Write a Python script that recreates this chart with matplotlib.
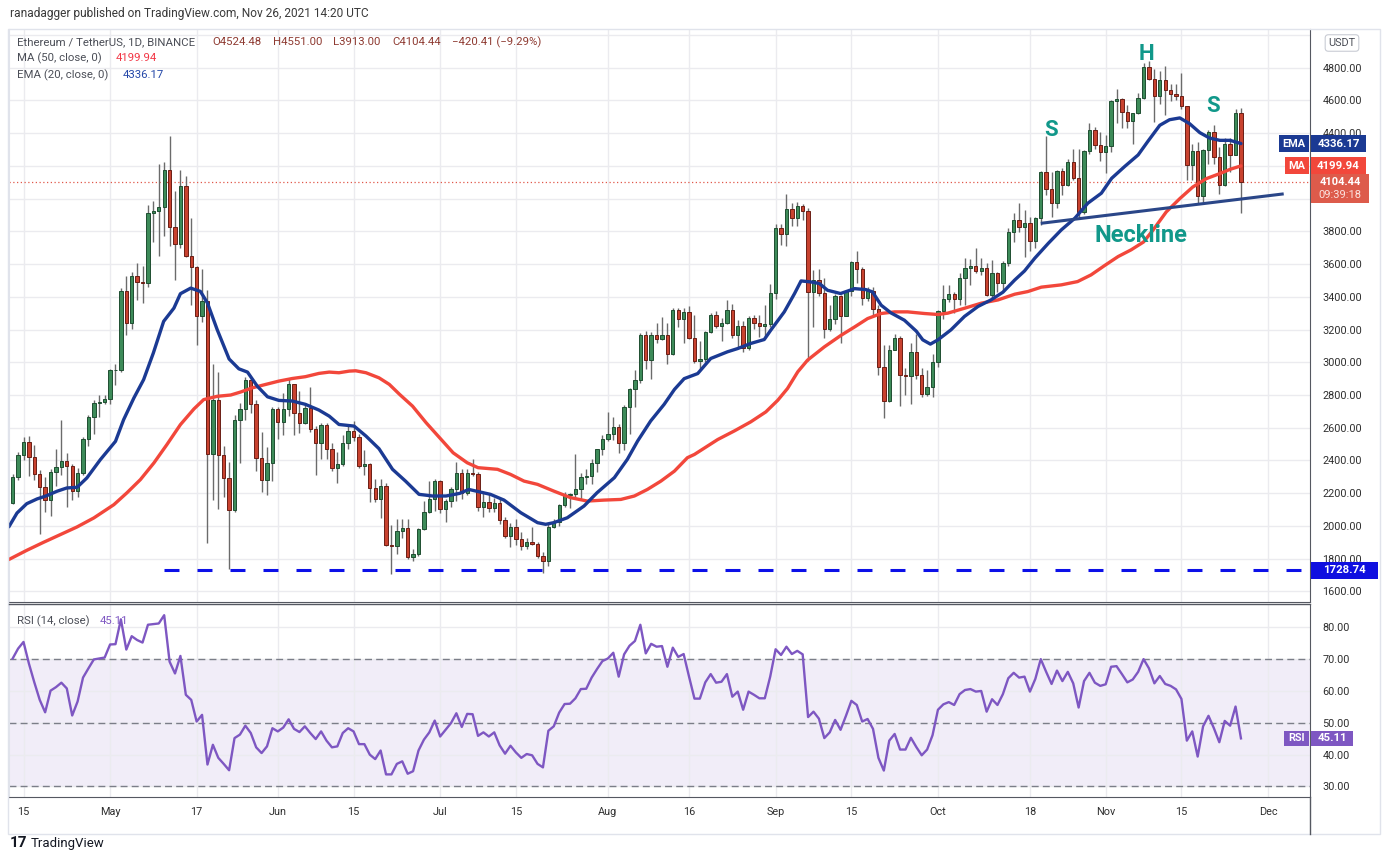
import numpy as np
import pandas as pd
import matplotlib
matplotlib.use('Agg')
import matplotlib.pyplot as plt
import matplotlib.dates as mdates
from matplotlib.patches import Rectangle
from matplotlib.lines import Line2D

plt.rcParams['font.family'] = ['Roboto', 'DejaVu Sans']

W, H = 1383, 860

# ETH/USDT daily candles, 2021-04-13 .. 2021-11-26
dates = pd.date_range('2021-04-13', '2021-11-26', freq='D')

opens = [
    2140, 2299, 2434, 2513, 2421, 2318, 2238, 2161, 2330, 2360, 2397, 2368, 2214, 2324, 2531, 2666, 2751, 2757,
    2776, 2951, 2955, 3435, 3240, 3529, 3490, 3484, 3912, 3926, 3948, 4176, 3824, 3722, 4078, 3647, 3582, 3280,
    3372, 2440, 2772, 2432, 2293, 2100, 2649, 2712, 2889, 2747, 2417, 2280, 2386,
    2712, 2635, 2712, 2865, 2692, 2627, 2720, 2594, 2508, 2614, 2472, 2356, 2376, 2508, 2582, 2545, 2366, 2376,
    2230, 2167, 2244, 1884, 1877, 1969, 1987, 1812, 1827, 1983, 2085, 2167,
    2274, 2105, 2152, 2223, 2325, 2199, 2325, 2319, 2118, 2148, 2112, 2142, 2034, 1938, 1995, 1922, 1877, 1904,
    1888, 1816, 1786, 1995, 2024, 2126, 2187, 2193, 2228, 2301, 2304, 2386, 2468,
    2533, 2559, 2606, 2508, 2728, 2834, 2891, 3164, 3013, 3164, 3144, 3164, 3048, 3322, 3266, 3310, 3148, 3010,
    3018, 3182, 3288, 3222, 3237, 3322, 3165, 3222, 3090, 3273, 3241, 3222, 3231,
    3426, 3823, 3786, 3939, 3884, 3953, 3925, 3430, 3501, 3426, 3206, 3267, 3404, 3284, 3434, 3611, 3567, 3395,
    3434, 3328, 2972, 2764, 3078, 3151, 2925, 2917, 3060, 2925, 2805, 2848,
    3001, 3314, 3385, 3416, 3385, 3514, 3575, 3589, 3560, 3575, 3412, 3544, 3487, 3605, 3794, 3868, 3829, 3849,
    3744, 3880, 4161, 4057, 3972, 4169, 4084, 4222, 4128, 3921, 4291, 4417, 4328,
    4287, 4322, 4596, 4609, 4531, 4476, 4521, 4613, 4805, 4733, 4627, 4723, 4666, 4641, 4627, 4564, 4204, 4289,
    4014, 4295, 4407, 4254, 4086, 4336, 4269, 4524.48,
]
highs = [
    2320, 2450, 2544, 2552, 2497, 2344, 2299, 2348, 2470, 2649, 2446, 2380, 2354, 2546, 2680, 2767, 2800, 2802,
    2960, 2987, 3456, 3529, 3551, 3606, 3590, 3962, 3987, 4213, 4221, 4380, 4044, 4176, 4140, 3881, 3590, 3570,
    3443, 2990, 2940, 2487, 2389, 2680, 2753, 2912, 2905, 2767, 2576, 2480, 2726,
    2728, 2810, 2895, 2870, 2824, 2749, 2850, 2610, 2631, 2627, 2504, 2453, 2555, 2616, 2641, 2559, 2462, 2385,
    2285, 2285, 2264, 2004, 2044, 2040, 2040, 1857, 1990, 2152, 2274, 2289,
    2280, 2162, 2240, 2390, 2346, 2346, 2411, 2330, 2199, 2199, 2173, 2173, 2055, 2020, 2044, 1965, 1928, 1995,
    1902, 1841, 2020, 2044, 2132, 2207, 2200, 2437, 2321, 2346, 2411, 2470, 2555,
    2696, 2667, 2620, 2740, 2844, 2952, 3176, 3192, 3184, 3237, 3278, 3241, 3333, 3333, 3333, 3343, 3288, 3129,
    3192, 3302, 3312, 3273, 3379, 3359, 3257, 3250, 3282, 3288, 3288, 3349, 3477,
    3847, 3843, 4027, 3974, 3980, 3970, 3945, 3562, 3567, 3512, 3349, 3420, 3410, 3440, 3619, 3680, 3583, 3461,
    3457, 3349, 3104, 3104, 3172, 3160, 2968, 3115, 3172, 2968, 2954, 3049,
    3320, 3473, 3473, 3432, 3544, 3640, 3632, 3701, 3636, 3605, 3626, 3554, 3620, 3823, 3910, 3972, 3931, 3890,
    3885, 4169, 4383, 4165, 4175, 4185, 4242, 4303, 4303, 4297, 4460, 4440, 4409,
    4389, 4603, 4670, 4612, 4572, 4525, 4643, 4827, 4838, 4790, 4780, 4810, 4702, 4702, 4769, 4564, 4336, 4346,
    4305, 4417, 4452, 4316, 4370, 4372, 4550, 4551,
]
lows = [
    2136, 2283, 2405, 2303, 2283, 1951, 2088, 2059, 2242, 2314, 2114, 2161, 2175, 2314, 2487, 2564, 2666, 2745,
    2747, 2859, 2940, 3164, 3205, 3382, 3362, 3460, 3732, 3651, 3773, 3708, 3504, 3696, 3643, 3348, 3107, 3246,
    1896, 2157, 2106, 2175, 1737, 2084, 2386, 2647, 2688, 2335, 2209, 2189, 2274,
    2529, 2555, 2671, 2555, 2566, 2620, 2574, 2311, 2411, 2407, 2335, 2264, 2366, 2472, 2519, 2356, 2311, 2148,
    2148, 2048, 1877, 1704, 1827, 1928, 1800, 1786, 1816, 1975, 2081, 2091,
    2081, 2024, 2118, 2150, 2166, 2190, 2305, 2091, 2056, 2085, 2085, 2010, 1928, 1873, 1881, 1853, 1857, 1881,
    1806, 1715, 1755, 1985, 1999, 2118, 2112, 2162, 2162, 2254, 2254, 2329, 2431,
    2519, 2525, 2447, 2464, 2560, 2728, 2875, 2960, 2899, 3119, 3139, 2987, 3042, 3217, 3119, 3141, 2997, 2956,
    3003, 3180, 3212, 3129, 3233, 3149, 3094, 3064, 3074, 3206, 3155, 3155, 3216,
    3389, 3719, 3709, 3831, 3835, 3872, 3009, 3216, 3404, 3149, 3192, 3233, 3115, 3282, 3404, 3485, 3349, 3375,
    3282, 2921, 2657, 2758, 3074, 2734, 2803, 2744, 2895, 2789, 2791, 2787,
    2974, 3263, 3371, 3300, 3351, 3347, 3473, 3544, 3534, 3402, 3381, 3428, 3428, 3591, 3733, 3799, 3646, 3681,
    3700, 3839, 4022, 3890, 3945, 4022, 4077, 4114, 3876, 3904, 4271, 4303, 4230,
    4155, 4287, 4460, 4430, 4430, 4332, 4515, 4609, 4725, 4468, 4576, 4513, 4594, 4600, 4550, 4112, 4112, 3969,
    3980, 4214, 4214, 4031, 4075, 4163, 4264, 3913,
]
closes = [
    2299, 2434, 2513, 2421, 2318, 2238, 2161, 2330, 2360, 2397, 2368, 2214, 2324, 2531, 2666, 2751, 2757, 2776,
    2951, 2955, 3435, 3240, 3529, 3490, 3484, 3912, 3926, 3948, 4176, 3824, 3722, 4078, 3647, 3582, 3280, 3372,
    2440, 2772, 2432, 2293, 2100, 2649, 2712, 2889, 2747, 2417, 2280, 2386, 2712,
    2635, 2712, 2865, 2692, 2627, 2720, 2594, 2508, 2614, 2472, 2356, 2376, 2508, 2582, 2545, 2366, 2376, 2230,
    2167, 2244, 1884, 1877, 1969, 1987, 1812, 1827, 1983, 2085, 2167, 2274,
    2105, 2152, 2223, 2325, 2199, 2325, 2319, 2118, 2148, 2112, 2142, 2034, 1938, 1995, 1922, 1877, 1904, 1888,
    1816, 1786, 1995, 2024, 2126, 2187, 2193, 2228, 2301, 2304, 2386, 2468, 2533,
    2559, 2606, 2508, 2728, 2834, 2891, 3164, 3013, 3164, 3144, 3164, 3048, 3322, 3266, 3310, 3148, 3010, 3018,
    3182, 3288, 3222, 3237, 3322, 3165, 3222, 3090, 3273, 3241, 3222, 3231, 3426,
    3823, 3786, 3939, 3884, 3953, 3925, 3430, 3501, 3426, 3206, 3267, 3404, 3284, 3434, 3611, 3567, 3395, 3434,
    3328, 2972, 2764, 3078, 3151, 2925, 2917, 3060, 2925, 2805, 2848, 3001,
    3314, 3385, 3416, 3385, 3514, 3575, 3589, 3560, 3575, 3412, 3544, 3487, 3605, 3794, 3868, 3829, 3849, 3744,
    3880, 4161, 4057, 3972, 4169, 4084, 4222, 4128, 3921, 4291, 4417, 4328, 4287,
    4322, 4596, 4609, 4531, 4476, 4521, 4613, 4805, 4733, 4627, 4723, 4666, 4641, 4627, 4564, 4204, 4289, 4014,
    4295, 4407, 4254, 4086, 4336, 4269, 4525, 4104.44,
]

# RSI(14) per day, same dates
rsi = [
    70.2, 73.3, 75.4, 68.6, 62.7, 57.2, 53.3, 60.1, 61.2, 62.6, 60.8, 52.3, 56.7, 64.2, 67.1, 69.9, 70.2, 70.5,
    74.6, 74.7, 82.5, 73.0, 77.2, 76.0, 75.2, 80.8, 81.0, 81.2, 83.8, 69.2, 65.5, 71.0, 58.8, 57.2, 50.4, 52.5,
    36.9, 43.1, 39.0, 37.1, 35.1, 45.2, 46.3, 49.1, 46.8, 42.3, 40.5, 42.6, 48.3, 47.3, 48.5, 51.1, 48.1, 47.1,
    48.9, 46.8, 44.9, 47.3, 44.4, 42.3, 42.6, 46.8, 48.3, 47.3, 43.3, 43.3, 40.0, 38.6, 41.3, 33.8, 33.8, 37.1,
    37.9, 34.0, 34.8, 41.3, 44.7, 47.0, 50.7, 45.7, 47.8, 49.9, 53.0, 48.7,
    52.8, 52.7, 45.9, 47.0, 45.7, 47.0, 42.9, 40.3, 42.8, 40.7, 39.0, 40.2, 39.8, 37.1, 36.0, 47.5, 48.9, 53.2,
    55.9, 56.0, 57.7, 60.6, 60.7, 64.2, 66.9, 69.4, 70.2, 72.0, 64.5, 71.5, 74.2, 75.7, 80.8, 71.8, 74.8, 73.9,
    74.1, 67.6, 73.6, 70.7, 71.6, 64.5, 57.6, 57.6, 62.7, 65.3, 62.6, 62.9, 65.3, 58.2, 59.8, 54.1, 59.8, 58.8,
    57.7, 57.7, 64.5, 73.1, 71.3, 73.9, 71.6, 72.6, 71.5, 51.8, 53.5, 51.3, 45.2, 47.0, 50.9, 47.8, 52.2, 56.9,
    55.6, 50.4, 51.2, 48.1, 39.0, 35.0, 44.4, 46.5, 41.6, 41.6, 45.3,
    42.4, 39.8, 41.6, 46.1, 54.1, 55.8, 56.5, 55.6, 59.0, 60.3, 60.6, 59.8, 60.0, 53.5, 57.4, 55.6, 59.0, 64.0,
    65.7, 64.2, 64.5, 59.8, 63.8, 70.0, 66.0, 62.2, 66.4, 63.1, 66.0, 62.4, 54.8, 63.1, 65.7, 62.6, 61.6, 62.1,
    67.6, 67.8, 65.3, 62.7, 63.6, 66.0, 70.0, 67.1, 62.4, 64.7, 62.2, 61.6, 60.5, 57.5, 44.4, 47.3, 39.4, 48.9,
    52.2, 48.3, 43.9, 50.6, 49.1, 55.1, 45.11,
]

# EMA 20 and MA 50: (days after 2021-04-15, value)
ema_days = [-2.7, -1.2, 0.6, 2.5, 4.3, 6.2, 8, 9.9, 11.7, 14.2, 17, 18.5, 20.4, 22.2, 24, 25.9, 27.8, 29,
            30.9, 32.7, 34, 35.8, 38, 39.8, 41.4, 43.2, 45.1, 47.2, 49.7, 52.1, 54.6, 56.5, 58.3, 61.1, 63.3,
            65.7, 68.2, 70.6, 73.1, 75.6, 78.1, 80.6, 82.3, 86.3, 88.8, 91.9, 95, 96.5, 98, 100.5, 103.6, 106,
            109.2, 111.6, 113.5, 115.9, 118.4, 120.3, 122.1, 124.6, 127, 130.1, 132, 134.4, 136.9, 138.1,
            140.6, 142.5, 143.7, 145.5, 147.1, 148.6, 151, 153.6, 155.7, 156.9, 158.5, 160.3, 162.8, 165,
            166.2, 167.6, 169, 171.4, 173.9, 176.4, 178.8, 181, 183.2, 185, 186.9, 189.4, 191.8, 194.3,
            196.7, 199.2, 201.1, 203.5, 206, 207.8, 210, 211.8, 213.7, 215.5, 217.4, 219.2, 221.1, 223, 225]
ema_vals = [1995, 2079, 2136, 2165, 2185, 2212, 2232, 2236, 2293, 2405, 2517, 2649, 2782, 2894, 3057, 3250,
            3331, 3419, 3453, 3433, 3362, 3199, 3020, 2960, 2940, 2854, 2789, 2767, 2763, 2743, 2708, 2671,
            2620, 2610, 2549, 2472, 2346, 2274, 2193, 2183, 2183, 2199, 2223, 2193, 2158, 2081, 2020, 2010,
            2020, 2050, 2122, 2203, 2295, 2407, 2519, 2641, 2743, 2834, 2900, 2931, 3023, 3064, 3084, 3115,
            3139, 3196, 3308, 3420, 3497, 3491, 3481, 3440, 3420, 3450, 3444, 3430, 3349, 3302, 3257, 3190,
            3137, 3111, 3137, 3198, 3280, 3341, 3381, 3428, 3503, 3558, 3636, 3727, 3809, 3880, 3972, 4033,
            4124, 4196, 4267, 4350, 4448, 4482, 4493, 4458, 4403, 4370, 4356, 4356, 4336.17]
ma_days = [-2.7, 0.6, 3.7, 6.8, 9.9, 13, 16.7, 19.1, 21.6, 24.1, 26.5, 29, 31.5, 33.3, 35.8, 38.3, 40.1,
           42.3, 44.8, 47.2, 49.7, 52.1, 54.6, 56.5, 58.3, 60.2, 61.4, 63.3, 65.7, 67.6, 69.5, 71.9, 74.4,
           76.9, 79.4, 82, 84, 87.6, 90, 92.5, 95, 98, 101.1, 104.2, 107.3, 110.4, 112.9, 115.3, 117.8,
           120.3, 122.7, 124, 128.3, 131.4, 134.4, 137.2, 139.4, 141.2, 143.1, 144.9, 148, 151.1, 153.6,
           156, 158.5, 161, 163.4, 166.5, 169, 170.8, 173.9, 177, 180.1, 183.2, 185.6, 188.1, 191.8, 194.8,
           197.3, 199.8, 202.3, 204.7, 207, 208.8, 211.2, 213.7, 216.1, 218.6, 221.1, 223, 225]
ma_vals = [1795, 1851, 1900, 1947, 1994, 2049, 2130, 2202, 2283, 2385, 2497, 2619, 2715, 2772, 2792, 2800,
           2818, 2844, 2865, 2885, 2901, 2912, 2932, 2940, 2936, 2946, 2948, 2936, 2905, 2865, 2804, 2732,
           2631, 2539, 2447, 2386, 2356, 2346, 2315, 2274, 2254, 2213, 2173, 2152, 2158, 2162, 2183, 2223,
           2274, 2335, 2417, 2437, 2528, 2581, 2636, 2697, 2768, 2840, 2942, 3013, 3094, 3165, 3216, 3267,
           3298, 3308, 3308, 3298, 3292, 3300, 3330, 3361, 3381, 3416, 3432, 3459, 3473, 3493, 3534, 3591,
           3646, 3687, 3735, 3810, 3919, 4000, 4071, 4122, 4153, 4179, 4199.94]

support = 1728.74
support_start = 26          # days after 2021-04-15
neck_days = [188.0, 232.9]
neck_vals = [3849, 4029]

tick_dates = ['2021-04-15', '2021-05-01', '2021-05-17', '2021-06-01', '2021-06-15', '2021-07-01',
              '2021-07-15', '2021-08-01', '2021-08-16', '2021-09-01', '2021-09-15', '2021-10-01',
              '2021-10-18', '2021-11-01', '2021-11-15', '2021-12-01']
tick_labels = ['15', 'May', '17', 'Jun', '15', 'Jul', '15', 'Aug', '16', 'Sep', '15', 'Oct', '18', 'Nov',
               '15', 'Dec']

assert len(opens) == len(highs) == len(lows) == len(closes) == len(rsi) == len(dates)

GRID = '#ebebef'
AXTXT = '#2f2f2f'
DARK = '#555861'

fig = plt.figure(figsize=(W / 100, H / 100), dpi=100)


def px_axes(l, t, r, b):
    return fig.add_axes([l / W, 1 - b / H, (r - l) / W, (b - t) / H])


def ftext(x, y, s, **kw):
    kw.setdefault('va', 'center')
    kw.setdefault('fontsize', 8.2)
    return fig.text(x / W, 1 - y / H, s, **kw)


def frect(x0, y0, x1, y1, **kw):
    r = Rectangle((x0 / W, 1 - y1 / H), (x1 - x0) / W, (y1 - y0) / H,
                  transform=fig.transFigure, **kw)
    fig.add_artist(r)
    return r


def ypx(a, v):
    return H - a.transData.transform((a.get_xlim()[0], v))[1]


ax = px_axes(9, 29, 1310, 602)
axr = px_axes(9, 605, 1310, 797)

base = mdates.date2num(pd.Timestamp('2021-04-15'))
xd = mdates.date2num(dates)
xlim = (base - 2.68, base + 237.76)
tick_x = mdates.date2num(pd.to_datetime(tick_dates))

o = np.array(opens, dtype=float)
c = np.array(closes, dtype=float)
up = c >= o

# candles
ax.vlines(xd, lows, highs, colors='#6b6b6b', lw=1.0, zorder=2)
ax.bar(xd, np.abs(c - o), bottom=np.minimum(o, c), width=0.62,
       color=['#3d8b59' if u else '#c8422f' for u in up],
       edgecolor=['#1f4e31' if u else '#6b1e15' for u in up], linewidth=0.7, zorder=3)

# moving averages
ax.plot(base + np.array(ma_days), ma_vals, color='#f2473b', lw=2.4, zorder=4, solid_capstyle='round')
ax.plot(base + np.array(ema_days), ema_vals, color='#1b3a93', lw=2.4, zorder=5, solid_capstyle='round')

# last price, support, neckline
ax.axhline(closes[-1], color='#e0584a', lw=0.9, ls=(0, (1, 2)), zorder=1)
ax.plot([base + support_start, xlim[1]], [support, support], color='#0c10e8', lw=2.2,
        ls=(0, (4.9, 5.9)), zorder=4)
ax.plot(base + np.array(neck_days), neck_vals, color='#2a4688', lw=2.2, zorder=6, solid_capstyle='butt')

ax.set_xlim(*xlim)
ax.set_ylim(1535.3, 5036.3)

# price-axis badge positions (pixels from top)
y_ema = ypx(ax, ema_vals[-1])
y_ma = ypx(ax, ma_vals[-1])
y_last = ypx(ax, closes[-1])
y_sup = ypx(ax, support)

yt = np.arange(1600, 5001, 200)
ylabels = []
for v in yt:
    yp = ypx(ax, v)
    hidden = (y_ma - 9 < yp < y_last + 22) or yp < 40
    ylabels.append('' if hidden else f'{v:.2f}')
ax.set_yticks(yt)
ax.set_yticklabels(ylabels)
ax.set_xticks(tick_x)
ax.yaxis.tick_right()
ax.tick_params(axis='y', length=0, pad=9, labelsize=7.8, labelcolor=AXTXT)
ax.tick_params(axis='x', length=0, labelbottom=False)
ax.grid(color=GRID, lw=1, zorder=0)
ax.set_axisbelow(True)

# RSI pane
axr.axhspan(30, 70, color='#7e57c2', alpha=0.1, lw=0, zorder=0)
for lvl in (30, 50, 70):
    axr.axhline(lvl, color='#7b7e88', lw=1, ls=(0, (5, 3)), zorder=1)
axr.plot(xd, rsi, color='#7e57c2', lw=1.7, zorder=3)
axr.set_xlim(*xlim)
axr.set_ylim(26.7, 87.0)
axr.set_yticks([30, 40, 50, 60, 70, 80])
axr.set_yticklabels([f'{v:.2f}' for v in [30, 40, 50, 60, 70, 80]])
axr.yaxis.tick_right()
axr.set_xticks(tick_x)
axr.set_xticklabels(tick_labels)
axr.tick_params(axis='y', length=0, pad=9, labelsize=7.8, labelcolor=AXTXT)
axr.tick_params(axis='x', length=0, pad=7, labelsize=7.8, labelcolor=AXTXT)
axr.grid(color=GRID, lw=1, zorder=0)
axr.set_axisbelow(True)
y_rsi = ypx(axr, rsi[-1])

for a in (ax, axr):
    a.spines['left'].set_color('#e0e3eb')
    a.spines['top'].set_visible(False)
    a.spines['right'].set_color(DARK)
    a.spines['bottom'].set_color(DARK)

# outer frame and axis separators
frect(8, 29, 1380, 834, fill=False, edgecolor='#e0e3eb', lw=1, zorder=1)
fig.add_artist(Line2D([1310 / W, 1310 / W], [1 - 797 / H, 1 - 834 / H], color=DARK, lw=1))
fig.add_artist(Line2D([9 / W, 1310 / W], [1 - 603.5 / H, 1 - 603.5 / H], color=DARK, lw=1))

# header and legends
ftext(10, 14, 'ranadagger published on TradingView.com, Nov 26, 2021 14:20 UTC', color='#3a3a3a', fontsize=8.6)
ftext(17, 42, 'Ethereum / TetherUS, 1D, BINANCE', color='#4b4e57')
val = '#8e3a31'
ftext(212, 42, f'O{opens[-1]:.2f}', color=val)
ftext(273, 42, f'H{highs[-1]:.2f}', color=val)
ftext(333, 42, f'L{lows[-1]:.2f}', color=val)
ftext(392, 42, f'C{closes[-1]:.2f}', color=val)
ftext(452, 42, '\u2212420.41 (\u22129.29%)', color=val)
ftext(17, 58, 'MA (50, close, 0)', color='#4b4e57')
ftext(116, 58, f'{ma_vals[-1]:.2f}', color='#f23645')
ftext(17, 75, 'EMA (20, close, 0)', color='#4b4e57')
ftext(123, 75, f'{ema_vals[-1]:.2f}', color='#2447a8')
ftext(17, 621, 'RSI (14, close)', color='#4b4e57')
ftext(100, 621, f'{rsi[-1]:.2f}', color='#7e57c2')

# pattern annotations
teal = '#11988a'
ftext(1051, 130, 'S', color=teal, fontsize=16, weight='bold', ha='center')
ftext(1146, 54, 'H', color=teal, fontsize=16, weight='bold', ha='center')
ftext(1213, 106, 'S', color=teal, fontsize=16, weight='bold', ha='center')
ftext(1141, 236, 'Neckline', color=teal, fontsize=17, weight='bold', ha='center')


# price-axis badges
def badge(x0, x1, yc, h, text, fc, fs=8.2):
    frect(x0, yc - h / 2, x1, yc + h / 2, facecolor=fc, edgecolor='none', zorder=5)
    ftext((x0 + x1) / 2, yc, text, color='white', fontsize=fs, ha='center', zorder=6, weight='bold')


badge(1279, 1309, y_ema, 17, 'EMA', '#1b3a93', fs=7.8)
badge(1311, 1366, y_ema, 17, f'{ema_vals[-1]:.2f}', '#1b3a93')
badge(1285, 1309, y_ma, 17, 'MA', '#f2473b', fs=7.8)
badge(1311, 1366, y_ma, 17, f'{ma_vals[-1]:.2f}', '#f2473b')
frect(1311, y_last - 7.5, 1369, y_last + 21.5, facecolor='#dd5b4b', edgecolor='none', zorder=5)
ftext(1340, y_last + 0.5, f'{closes[-1]:.2f}', color='white', fontsize=8.0, ha='center', zorder=6, weight='bold')
ftext(1340, y_last + 13.5, '09:39:18', color='#fbe3df', fontsize=8.0, ha='center', zorder=6)
badge(1311, 1378, y_sup, 17, f'{support:.2f}', '#1010e0')
badge(1284, 1309, y_rsi, 15, 'RSI', '#7e57c2', fs=7.8)
badge(1311, 1353, y_rsi, 15, f'{rsi[-1]:.2f}', '#7e57c2')
ftext(1342, 43, 'USDT', color='#4b4e57', fontsize=7.8, ha='center', zorder=6,
      bbox=dict(boxstyle='round,pad=0.3', fc='white', ec='#c9ccd4', lw=0.8))

# footer logo
ftext(10, 843, '17', color='#131722', fontsize=11, weight='bold')
ftext(31, 843, 'TradingView', color='#131722', fontsize=9.5)

fig.savefig('out.png', dpi=100, facecolor='white')
